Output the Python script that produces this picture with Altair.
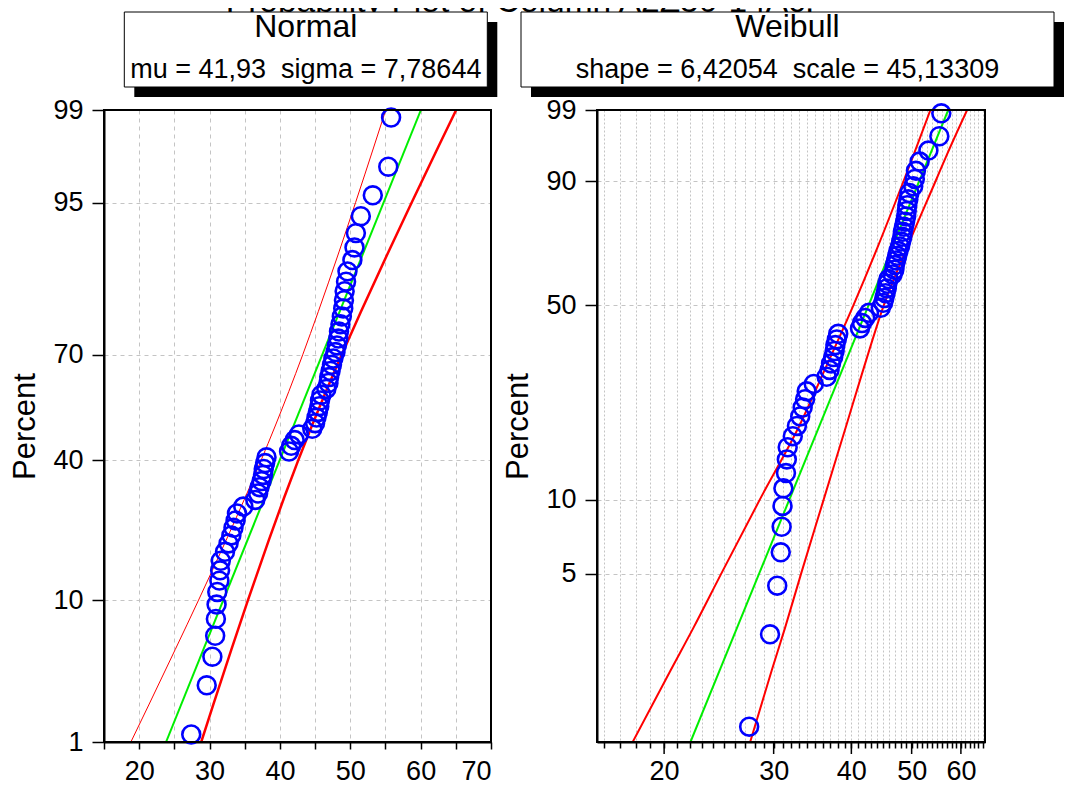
import math
from statistics import NormalDist
import altair as alt
import pandas as pd

# ---------------- data ----------------
values = [27.4, 29.6, 30.4, 30.8, 30.9, 31.0, 31.1, 31.4, 31.5, 31.6,
          32.2, 32.7, 33.1, 33.4, 33.7, 33.9, 34.8, 36.5, 36.9, 37.1,
          37.4, 37.6, 37.7, 37.9, 38.1, 41.3, 41.6, 42.1, 42.7, 44.6,
          45.0, 45.2, 45.4, 45.6, 45.7, 45.9, 46.6, 46.9, 47.0, 47.2,
          47.4, 47.6, 47.9, 48.1, 48.3, 48.4, 48.6, 48.8, 49.0, 49.1,
          49.2, 49.4, 49.6, 50.3, 50.6, 50.8, 51.5, 53.2, 55.4, 55.8]

norm_fit_pct = [1, 99]
norm_fit_x = [23.82, 60.04]
norm_band_pct = [1, 2, 5, 10, 20, 30, 40, 50, 60, 70, 80, 90, 95, 98, 99]
norm_lower = [18.82, 21.36, 25.13, 28.44, 32.35, 35.08, 37.32, 39.33, 41.26, 43.24, 45.45, 48.40, 50.75, 53.34, 55.04]
norm_upper = [28.82, 30.52, 33.11, 35.46, 38.41, 40.62, 42.60, 44.53, 46.54, 48.78, 51.51, 55.42, 58.73, 62.50, 65.04]

weib_fit_pct = [1, 99]
weib_fit_x = [22.05, 57.25]
weib_band_pct = [1, 2, 3, 5, 10, 20, 30, 50, 70, 90, 95, 99]
weib_lower = [17.8, 20.5, 22.3, 24.7, 28.5, 33.2, 36.0, 40.3, 44.0, 48.5, 50.4, 53.6]
weib_upper = [27.5, 29.8, 31.3, 33.2, 36.1, 39.4, 41.6, 45.1, 49.1, 54.6, 57.0, 61.4]

norm_ticks_pct = [1, 10, 40, 70, 95, 99]
weib_ticks_pct = [5, 10, 50, 90, 99]
norm_x_ticks = list(range(15, 71, 5))
weib_x_ticks = list(range(16, 66))
weib_x_major = [20, 30, 40, 50, 60]

main_title = "Probability Plot of Column A2Z50-14Ac."
norm_head = "Normal"
norm_sub = "mu = 41,93\u00a0 sigma = 7,78644"
weib_head = "Weibull"
weib_sub = "shape = 6,42054\u00a0 scale = 45,13309"

# ---------------- helpers ----------------
FONT = "Liberation Sans"
PW1, PW2, PH = 387, 388, 632
nd = NormalDist()


def zq(p):
    return nd.inv_cdf(p)


def wq(p):
    return math.log(-math.log(1 - p))


pts = pd.DataFrame({"xv": values})


def lines_df(fit_pct, fit_x, band_pct, lower, upper):
    rows = []
    for p, x in zip(fit_pct, fit_x):
        rows.append({"pct": p, "xv": x, "series": "fit"})
    for p, x in zip(band_pct, lower):
        rows.append({"pct": p, "xv": x, "series": "lower"})
    for p, x in zip(band_pct, upper):
        rows.append({"pct": p, "xv": x, "series": "upper"})
    return pd.DataFrame(rows)


one = pd.DataFrame({"a": [0]})


def header(cx, x0, x1, head, sub):
    y0, y1 = -98, -23
    shadow = alt.Chart(one).mark_rect(color="black").encode(
        x=alt.value(x0 + 10), x2=alt.value(x1 + 10), y=alt.value(y0 + 10), y2=alt.value(y1 + 10))
    box = alt.Chart(one).mark_rect(fill="white", stroke="black", strokeWidth=1).encode(
        x=alt.value(x0), x2=alt.value(x1), y=alt.value(y0), y2=alt.value(y1))
    t1 = alt.Chart(one).mark_text(text=head, font=FONT, fontSize=32, color="black", align="center",
                                  baseline="alphabetic").encode(x=alt.value(cx), y=alt.value(-73))
    t2 = alt.Chart(one).mark_text(text=sub, font=FONT, fontSize=27, color="black", align="center",
                                  baseline="alphabetic").encode(x=alt.value(cx), y=alt.value(-32))
    return [shadow, box, t1, t2]


def frame(pw):
    return alt.Chart(one).mark_rect(fillOpacity=0, stroke="black", strokeWidth=2).encode(
        x=alt.value(0), x2=alt.value(pw), y=alt.value(0), y2=alt.value(PH))


def line_layer(df, series, color, width, scx, scy, ax, ay, yexpr):
    return alt.Chart(df).transform_filter(alt.datum.series == series).transform_calculate(
        yv=yexpr).mark_line(color=color, strokeWidth=width, interpolate="monotone", clip=True).encode(
        x=alt.X("xv:Q", scale=scx, axis=ax), y=alt.Y("yv:Q", scale=scy, axis=ay), order="pct:Q")


def point_layer(scx, scy, ax, ay, yexpr):
    return alt.Chart(pts).transform_window(
        rank="row_number()", sort=[alt.SortField("xv")]).transform_joinaggregate(
        n="count()").transform_calculate(
        p="(datum.rank - 0.3) / (datum.n + 0.4)").transform_calculate(
        yv=yexpr).mark_point(
        shape="circle", filled=False, size=320, strokeWidth=2.6, color="#0000ff", opacity=1).encode(
        x=alt.X("xv:Q", scale=scx, axis=ax), y=alt.Y("yv:Q", scale=scy, axis=ay))


# ---------------- Normal panel ----------------
xn = alt.Scale(domain=[15, 70], nice=False, zero=False)
yn = alt.Scale(domain=[zq(0.01), zq(0.99)], nice=False, zero=False)

xaxis_n = alt.Axis(values=norm_x_ticks, labelExpr="datum.value % 10 === 0 ? datum.label : ''",
                   grid=True, gridDash=[4, 4], tickSize=7, labelPadding=9, title=None)
yaxis_n = alt.Axis(values=[zq(p / 100) for p in norm_ticks_pct],
                   labelExpr="format(cumulativeNormal(datum.value) * 100, '.0f')",
                   grid=True, gridDash=[4, 4], tickSize=12, labelPadding=9,
                   title="Percent", titlePadding=11)

ln = lines_df(norm_fit_pct, norm_fit_x, norm_band_pct, norm_lower, norm_upper)
nexpr = "quantileNormal(datum.pct / 100)"

title_layer = alt.Chart(one).mark_text(text=main_title, font=FONT, fontSize=33.5, color="black",
                                       align="center", baseline="alphabetic").encode(
    x=alt.value(416), y=alt.value(-98))

normal = alt.layer(
    line_layer(ln, "fit", "#00ee00", 2, xn, yn, xaxis_n, yaxis_n, nexpr),
    line_layer(ln, "lower", "#ff0000", 1, xn, yn, xaxis_n, yaxis_n, nexpr),
    line_layer(ln, "upper", "#ff0000", 2.5, xn, yn, xaxis_n, yaxis_n, nexpr),
    point_layer(xn, yn, xaxis_n, yaxis_n, "quantileNormal(datum.p)"),
    frame(PW1),
    title_layer,
    *header(201.8, 20.3, 383.3, norm_head, norm_sub),
).properties(width=PW1, height=PH)

# ---------------- Weibull panel ----------------
xw = alt.Scale(type="log", domain=[15.6, 65.6], nice=False, zero=False)
yw = alt.Scale(domain=[wq(0.01), wq(0.99)], nice=False, zero=False)

xaxis_w = alt.Axis(values=weib_x_ticks, labelExpr="datum.value % 10 === 0 ? datum.label : ''",
                   grid=True, gridDash=[2, 2], tickSize=6, labelPadding=10, title=None)
yaxis_w = alt.Axis(values=[wq(p / 100) for p in weib_ticks_pct],
                   labelExpr="format((1 - exp(-exp(datum.value))) * 100, '.0f')",
                   grid=True, gridDash=[4, 4], tickSize=12, labelPadding=9,
                   title="Percent", titlePadding=11)

lw = lines_df(weib_fit_pct, weib_fit_x, weib_band_pct, weib_lower, weib_upper)
wexpr = "log(-log(1 - datum.pct / 100))"

major_ticks = alt.Chart(pd.DataFrame({"xv": weib_x_major})).mark_rule(
    color="black", strokeWidth=1.5).encode(
    x=alt.X("xv:Q", scale=xw, axis=xaxis_w), y=alt.value(PH), y2=alt.value(PH + 12))

weibull = alt.layer(
    line_layer(lw, "fit", "#00ee00", 2, xw, yw, xaxis_w, yaxis_w, wexpr),
    line_layer(lw, "lower", "#ff0000", 2, xw, yw, xaxis_w, yaxis_w, wexpr),
    line_layer(lw, "upper", "#ff0000", 2, xw, yw, xaxis_w, yaxis_w, wexpr),
    point_layer(xw, yw, xaxis_w, yaxis_w, "log(-log(1 - datum.p))"),
    frame(PW2),
    major_ticks,
    *header(190.5, -76, 457, weib_head, weib_sub),
).properties(width=PW2, height=PH)

chart = alt.hconcat(normal, weibull, spacing=106, bounds="flush").properties(
    padding={"left": 0, "top": -24, "right": 0, "bottom": 0}
).configure_view(stroke="black", strokeWidth=2).configure_axis(
    labelFont=FONT, titleFont=FONT, labelColor="black", titleColor="black",
    labelFontSize=27, titleFontSize=31, titleFontWeight="normal",
    domainColor="black", domainWidth=2, tickColor="black", tickWidth=1.5,
    gridColor="#c4c4c4", gridWidth=1,
)

chart.save("out.html", embed_options={"renderer": "svg", "actions": False})
